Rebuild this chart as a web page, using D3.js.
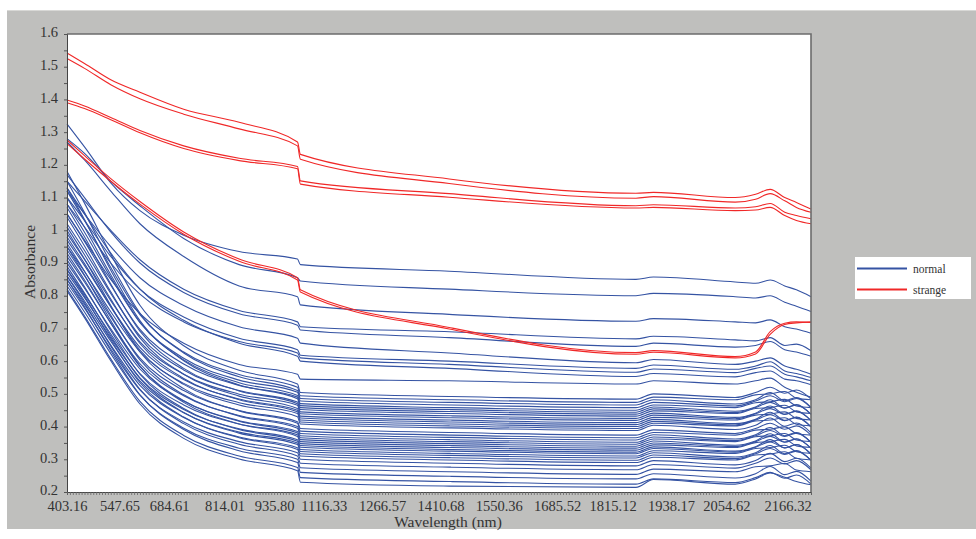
<!DOCTYPE html>
<html>
<head>
<meta charset="utf-8">
<script src="https://cdn.jsdelivr.net/npm/d3@7"></script>
<style>
  html, body { margin: 0; padding: 0; background: #ffffff; }
  svg { display: block; }
  text { font-family: "Liberation Serif", "Times New Roman", serif; fill: #333; }
</style>
</head>
<body>
<svg id="chart" width="976" height="539"></svg>
<script>
// Channel indices at which each spectrum is sampled (256-channel Vis-NIR detector)
const nodeChannels = [0, 6, 15, 25, 40, 59, 79, 80, 131, 195, 201, 229, 236, 241, 246, 250, 255];

// Wavelength tick labels and the channel each one sits on
const tickLabels = ["403.16", "547.65", "684.61", "814.01", "935.80", "1116.33", "1266.57",
  "1410.68", "1550.36", "1685.52", "1815.12", "1938.17", "2054.62", "2166.32"];
const tickChannels = [0, 18, 35, 54, 71, 88, 108, 128, 148, 168, 187, 207, 226, 247];

const yTicks = [0.2, 0.25, 0.3, 0.35, 0.4, 0.45, 0.5, 0.55, 0.6, 0.65, 0.7, 0.75, 0.8, 0.85,
  0.9, 0.95, 1.0, 1.05, 1.1, 1.15, 1.2, 1.25, 1.3, 1.35, 1.4, 1.45, 1.5, 1.55, 1.6];

const classNames = ["normal", "strange"];

// Absorbance of the normal samples
const normalSpectra = [
  [1.325, 1.255, 1.145, 1.06, 0.985, 0.935, 0.912, 0.895, 0.875, 0.85, 0.857, 0.842, 0.838, 0.848, 0.83, 0.818, 0.797],
  [1.28, 1.235, 1.15, 1.075, 0.975, 0.895, 0.855, 0.845, 0.82, 0.80, 0.807, 0.797, 0.793, 0.80, 0.78, 0.768, 0.752],
  [1.27, 1.215, 1.12, 1.02, 0.92, 0.83, 0.797, 0.772, 0.743, 0.722, 0.73, 0.72, 0.717, 0.726, 0.705, 0.698, 0.685],
  [1.15, 1.09, 1.0, 0.91, 0.82, 0.755, 0.72, 0.705, 0.69, 0.668, 0.676, 0.665, 0.662, 0.672, 0.648, 0.652, 0.632],
  [1.17, 1.10, 0.995, 0.90, 0.81, 0.745, 0.71, 0.695, 0.672, 0.645, 0.655, 0.643, 0.648, 0.66, 0.635, 0.628, 0.615],
  [1.12, 1.05, 0.95, 0.855, 0.77, 0.705, 0.67, 0.655, 0.625, 0.595, 0.605, 0.59, 0.60, 0.61, 0.585, 0.575, 0.56],
  [1.10, 1.03, 0.92, 0.82, 0.735, 0.67, 0.635, 0.618, 0.60, 0.578, 0.588, 0.575, 0.585, 0.598, 0.57, 0.562, 0.55],
  [1.08, 1.01, 0.90, 0.805, 0.72, 0.66, 0.625, 0.61, 0.59, 0.566, 0.576, 0.565, 0.578, 0.585, 0.56, 0.552, 0.54],
  [1.13, 1.05, 0.93, 0.82, 0.725, 0.655, 0.615, 0.60, 0.578, 0.553, 0.562, 0.552, 0.565, 0.57, 0.545, 0.54, 0.528],
  [1.05, 0.97, 0.85, 0.745, 0.655, 0.59, 0.56, 0.545, 0.54, 0.53, 0.54, 0.53, 0.54, 0.548, 0.52, 0.505, 0.49],
  [1.18, 1.083, 0.927, 0.771, 0.647, 0.572, 0.53, 0.504, 0.492, 0.484, 0.50, 0.489, 0.504, 0.52, 0.502, 0.512, 0.484],
  [1.12, 1.03, 0.886, 0.742, 0.628, 0.559, 0.52, 0.494, 0.482, 0.474, 0.49, 0.482, 0.497, 0.50, 0.507, 0.487, 0.482],
  [1.15, 1.054, 0.90, 0.747, 0.625, 0.552, 0.51, 0.486, 0.474, 0.466, 0.482, 0.469, 0.482, 0.504, 0.479, 0.489, 0.459],
  [1.08, 0.994, 0.856, 0.718, 0.609, 0.542, 0.505, 0.478, 0.466, 0.458, 0.474, 0.463, 0.478, 0.494, 0.476, 0.486, 0.458],
  [1.10, 1.009, 0.864, 0.719, 0.604, 0.534, 0.495, 0.47, 0.458, 0.45, 0.466, 0.458, 0.473, 0.476, 0.483, 0.463, 0.458],
  [1.05, 0.966, 0.832, 0.697, 0.591, 0.526, 0.49, 0.464, 0.452, 0.444, 0.46, 0.447, 0.46, 0.482, 0.457, 0.467, 0.437],
  [1.13, 1.033, 0.878, 0.724, 0.601, 0.527, 0.485, 0.458, 0.446, 0.438, 0.454, 0.443, 0.458, 0.474, 0.456, 0.466, 0.438],
  [1.02, 0.938, 0.807, 0.677, 0.573, 0.51, 0.475, 0.452, 0.44, 0.432, 0.448, 0.44, 0.455, 0.458, 0.465, 0.445, 0.44],
  [1.07, 0.98, 0.836, 0.692, 0.578, 0.509, 0.47, 0.445, 0.433, 0.425, 0.441, 0.428, 0.441, 0.463, 0.438, 0.448, 0.418],
  [0.99, 0.911, 0.785, 0.659, 0.56, 0.499, 0.465, 0.439, 0.427, 0.419, 0.435, 0.424, 0.439, 0.455, 0.437, 0.447, 0.419],
  [1.04, 0.952, 0.812, 0.671, 0.56, 0.493, 0.455, 0.432, 0.42, 0.412, 0.428, 0.42, 0.435, 0.438, 0.445, 0.425, 0.42],
  [0.97, 0.892, 0.767, 0.642, 0.544, 0.484, 0.45, 0.426, 0.414, 0.406, 0.422, 0.409, 0.422, 0.444, 0.419, 0.429, 0.399],
  [1.01, 0.925, 0.79, 0.654, 0.547, 0.482, 0.445, 0.42, 0.408, 0.40, 0.416, 0.405, 0.42, 0.436, 0.418, 0.428, 0.40],
  [0.95, 0.874, 0.751, 0.629, 0.532, 0.473, 0.44, 0.414, 0.402, 0.394, 0.41, 0.402, 0.417, 0.42, 0.427, 0.407, 0.402],
  [0.98, 0.898, 0.766, 0.634, 0.529, 0.466, 0.43, 0.408, 0.396, 0.388, 0.404, 0.391, 0.404, 0.426, 0.401, 0.411, 0.381],
  [0.94, 0.861, 0.735, 0.609, 0.51, 0.449, 0.415, 0.394, 0.382, 0.374, 0.39, 0.379, 0.394, 0.41, 0.392, 0.402, 0.374],
  [1.00, 0.912, 0.77, 0.628, 0.516, 0.448, 0.41, 0.386, 0.374, 0.366, 0.382, 0.374, 0.389, 0.392, 0.399, 0.379, 0.374],
  [0.92, 0.842, 0.717, 0.592, 0.494, 0.434, 0.40, 0.379, 0.367, 0.359, 0.375, 0.362, 0.375, 0.397, 0.372, 0.382, 0.352],
  [0.96, 0.875, 0.74, 0.604, 0.497, 0.432, 0.395, 0.372, 0.36, 0.352, 0.368, 0.357, 0.372, 0.388, 0.37, 0.38, 0.352],
  [0.90, 0.823, 0.699, 0.576, 0.478, 0.418, 0.385, 0.366, 0.354, 0.346, 0.362, 0.354, 0.369, 0.372, 0.379, 0.359, 0.354],
  [0.93, 0.848, 0.716, 0.584, 0.479, 0.416, 0.38, 0.36, 0.348, 0.34, 0.356, 0.343, 0.356, 0.378, 0.353, 0.363, 0.333],
  [0.88, 0.804, 0.683, 0.562, 0.466, 0.408, 0.375, 0.354, 0.342, 0.334, 0.35, 0.339, 0.354, 0.37, 0.352, 0.362, 0.334],
  [0.95, 0.863, 0.724, 0.585, 0.474, 0.408, 0.37, 0.348, 0.336, 0.328, 0.344, 0.336, 0.351, 0.354, 0.361, 0.341, 0.336],
  [0.87, 0.794, 0.671, 0.549, 0.452, 0.393, 0.36, 0.342, 0.33, 0.322, 0.338, 0.325, 0.338, 0.36, 0.335, 0.345, 0.315],
  [0.91, 0.827, 0.694, 0.56, 0.455, 0.391, 0.355, 0.337, 0.325, 0.317, 0.333, 0.322, 0.337, 0.353, 0.335, 0.345, 0.317],
  [0.86, 0.784, 0.661, 0.539, 0.442, 0.383, 0.35, 0.33, 0.318, 0.31, 0.326, 0.318, 0.333, 0.336, 0.343, 0.323, 0.318],
  [0.89, 0.808, 0.677, 0.547, 0.443, 0.38, 0.345, 0.324, 0.312, 0.304, 0.32, 0.307, 0.32, 0.342, 0.317, 0.327, 0.297],
  [0.85, 0.773, 0.649, 0.526, 0.428, 0.368, 0.335, 0.317, 0.305, 0.297, 0.313, 0.302, 0.317, 0.333, 0.315, 0.325, 0.297],
  [0.88, 0.798, 0.666, 0.534, 0.429, 0.366, 0.33, 0.31, 0.298, 0.29, 0.306, 0.298, 0.313, 0.316, 0.323, 0.303, 0.298],
  [0.84, 0.762, 0.637, 0.512, 0.414, 0.354, 0.32, 0.30, 0.288, 0.28, 0.296, 0.283, 0.296, 0.318, 0.293, 0.303, 0.273],
  [0.86, 0.778, 0.646, 0.514, 0.409, 0.346, 0.31, 0.288, 0.276, 0.268, 0.284, 0.273, 0.288, 0.304, 0.286, 0.296, 0.268],
  [0.83, 0.75, 0.623, 0.496, 0.395, 0.334, 0.30, 0.274, 0.262, 0.254, 0.27, 0.262, 0.277, 0.28, 0.287, 0.267, 0.262],
  [0.85, 0.766, 0.632, 0.497, 0.391, 0.326, 0.29, 0.26, 0.248, 0.24, 0.256, 0.243, 0.256, 0.278, 0.253, 0.263, 0.233],
  [0.82, 0.738, 0.607, 0.477, 0.373, 0.31, 0.275, 0.244, 0.232, 0.224, 0.24, 0.229, 0.244, 0.26, 0.242, 0.252, 0.224],
  [0.815, 0.733, 0.601, 0.469, 0.364, 0.301, 0.265, 0.23, 0.218, 0.214, 0.238, 0.224, 0.24, 0.258, 0.245, 0.232, 0.222]
];

// Absorbance of the strange samples
const strangeSpectra = [
  [1.542, 1.51, 1.46, 1.422, 1.37, 1.33, 1.27, 1.232, 1.157, 1.113, 1.116, 1.10, 1.11, 1.125, 1.10, 1.085, 1.065],
  [1.525, 1.495, 1.445, 1.402, 1.355, 1.31, 1.258, 1.217, 1.143, 1.098, 1.103, 1.086, 1.095, 1.112, 1.09, 1.07, 1.055],
  [1.398, 1.38, 1.345, 1.305, 1.258, 1.22, 1.195, 1.151, 1.112, 1.075, 1.078, 1.068, 1.072, 1.082, 1.055, 1.045, 1.035],
  [1.39, 1.372, 1.338, 1.298, 1.25, 1.213, 1.188, 1.141, 1.101, 1.068, 1.07, 1.06, 1.062, 1.07, 1.045, 1.03, 1.02],
  [1.276, 1.228, 1.158, 1.088, 0.995, 0.912, 0.855, 0.818, 0.703, 0.626, 0.632, 0.614, 0.628, 0.69, 0.716, 0.72, 0.718],
  [1.265, 1.218, 1.15, 1.08, 0.988, 0.905, 0.848, 0.811, 0.698, 0.621, 0.627, 0.61, 0.622, 0.682, 0.712, 0.717, 0.72]
];

const colors = { normal: "#3553a3", strange: "#f02828" };

const svg = d3.select("#chart");
const W = 976, H = 539;
const margin = { left: 67, right: 165, top: 34, bottom: 47 };
const plotW = W - margin.left - margin.right;
const plotH = H - margin.top - margin.bottom;

// Grey panel behind the chart
svg.append("rect").attr("x", 7).attr("y", 10).attr("width", W - 7).attr("height", 519)
  .attr("fill", "#bfbfbd");
svg.append("line").attr("x1", 7).attr("x2", W).attr("y1", 10.5).attr("y2", 10.5)
  .attr("stroke", "#d8d8d6").attr("stroke-width", 1);

const x = d3.scaleLinear().domain([0, 255]).range([margin.left, margin.left + plotW]);
const y = d3.scaleLinear().domain([0.2, 1.6]).range([margin.top + plotH, margin.top]);

// White plotting area
svg.append("rect").attr("x", margin.left).attr("y", margin.top)
  .attr("width", plotW).attr("height", plotH).attr("fill", "#ffffff");

const line = d3.line()
  .x((d, i) => x(nodeChannels[i]))
  .y(d => y(d))
  .curve(d3.curveMonotoneX);

const plot = svg.append("g");
plot.selectAll("path.normal").data(normalSpectra).join("path")
  .attr("class", "normal")
  .attr("d", line)
  .attr("fill", "none")
  .attr("stroke", colors.normal)
  .attr("stroke-width", 1.1);
plot.selectAll("path.strange").data(strangeSpectra).join("path")
  .attr("class", "strange")
  .attr("d", line)
  .attr("fill", "none")
  .attr("stroke", colors.strange)
  .attr("stroke-width", 1.1);

// Frame: darker top and right edges
svg.append("path")
  .attr("d", `M${margin.left},${margin.top}H${margin.left + plotW}V${margin.top + plotH}`)
  .attr("fill", "none").attr("stroke", "#6c6c6c").attr("stroke-width", 1.6);

// Y axis
const yAxis = d3.axisLeft(y)
  .tickValues(yTicks)
  .tickSize(3)
  .tickPadding(6)
  .tickFormat(d => (Math.round(d * 100) % 10 === 0 ? String(+d.toFixed(1)) : ""));
const gy = svg.append("g").attr("transform", `translate(${margin.left},0)`).call(yAxis);
gy.select(".domain").attr("stroke", "#444");
gy.selectAll(".tick line").attr("stroke", "#555");
gy.selectAll(".tick text").style("font-size", "14.5px").attr("fill", "#333").attr("dy", "0.2em");

// X axis: a small tick at every channel, wavelength labels at selected channels
const xMinor = d3.axisBottom(x).tickValues(d3.range(0, 256)).tickSize(3).tickFormat("");
const gxm = svg.append("g").attr("transform", `translate(0,${margin.top + plotH})`).call(xMinor);
gxm.select(".domain").attr("stroke", "#444");
gxm.selectAll(".tick line").attr("stroke", "#666").attr("stroke-width", 0.8);

const xAxis = d3.axisBottom(x)
  .tickValues(tickChannels)
  .tickSize(0)
  .tickPadding(10)
  .tickFormat((d, i) => tickLabels[i]);
const gx = svg.append("g").attr("transform", `translate(0,${margin.top + plotH})`).call(xAxis);
gx.select(".domain").remove();
gx.selectAll(".tick text").style("font-size", "14.5px").attr("fill", "#333").attr("dy", "0.6em");

// Axis titles
svg.append("text")
  .attr("x", 448).attr("y", 527)
  .attr("text-anchor", "middle")
  .style("font-size", "15.5px")
  .text("Wavelength (nm)");
svg.append("text")
  .attr("transform", "translate(35,262) rotate(-90)")
  .attr("text-anchor", "middle")
  .style("font-size", "15.5px")
  .text("Absorbance");

// Legend
const legend = svg.append("g").attr("transform", "translate(855,257)");
legend.append("rect").attr("width", 116).attr("height", 42).attr("fill", "#ffffff");
classNames.forEach((name, i) => {
  const gy0 = 11.5 + i * 21;
  legend.append("line")
    .attr("x1", 2).attr("x2", 52).attr("y1", gy0).attr("y2", gy0)
    .attr("stroke", colors[name]).attr("stroke-width", 1.8);
  legend.append("text")
    .attr("x", 58).attr("y", gy0 + 4)
    .style("font-size", "11.5px")
    .attr("fill", "#222")
    .text(name);
});
</script>
</body>
</html>
